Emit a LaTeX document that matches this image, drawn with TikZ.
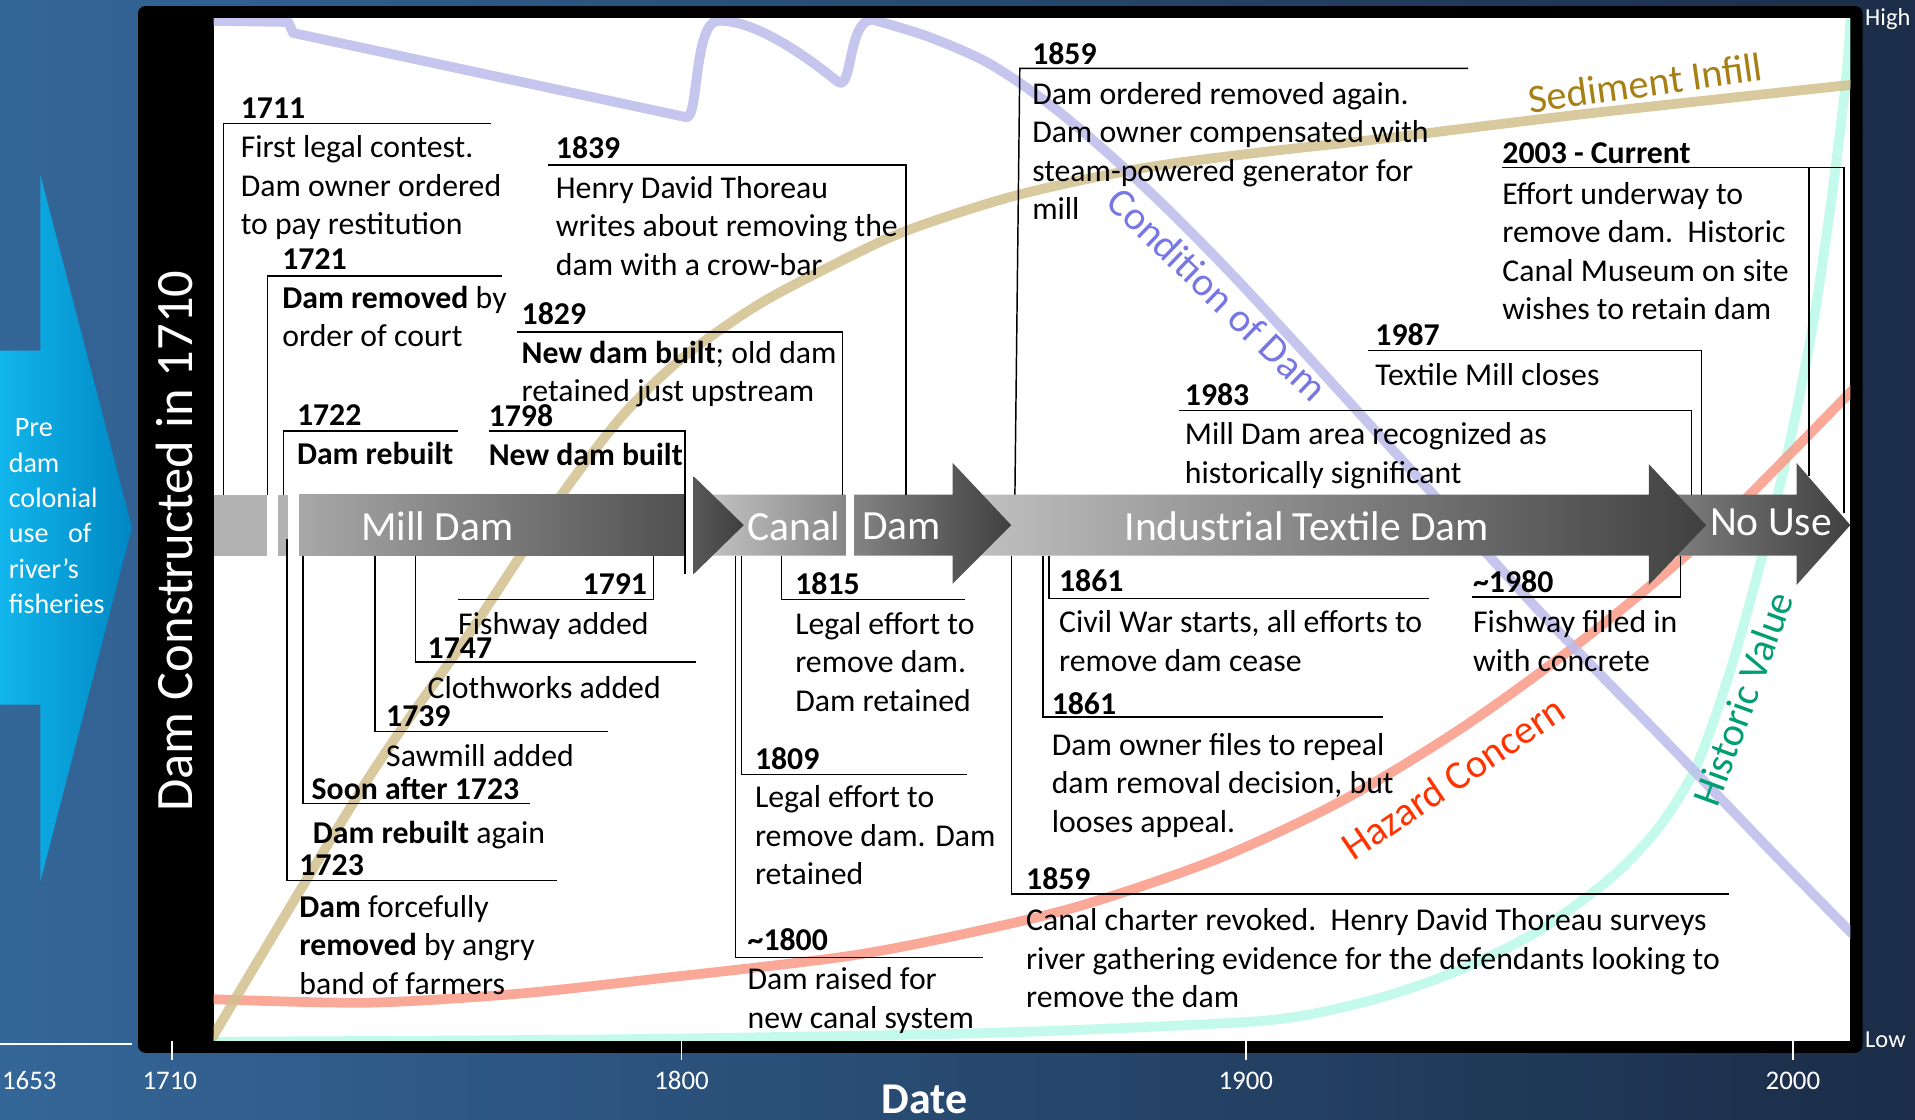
\documentclass[tikz,border=0pt]{standalone}
\usepackage{fontspec}
\setmainfont{Carlito}
\definecolor{bgL}{RGB}{52,102,152}
\definecolor{bgR}{RGB}{27,45,72}
\definecolor{arrL}{RGB}{18,182,236}
\definecolor{arrR}{RGB}{0,135,195}
\definecolor{condC}{RGB}{188,188,236}
\definecolor{condT}{RGB}{118,118,228}
\definecolor{sedC}{RGB}{210,192,142}
\definecolor{sedT}{RGB}{166,128,20}
\definecolor{hazC}{RGB}{250,155,135}
\definecolor{hazT}{RGB}{255,51,0}
\definecolor{hisC}{RGB}{185,250,232}
\definecolor{hisT}{RGB}{0,158,115}
\definecolor{preG}{RGB}{178,178,178}
\definecolor{miL}{RGB}{168,168,168}
\definecolor{miR}{RGB}{80,80,80}
\definecolor{mhL}{RGB}{88,88,88}
\definecolor{mhR}{RGB}{62,62,62}
\definecolor{caL}{RGB}{192,192,192}
\definecolor{caR}{RGB}{64,64,64}
\definecolor{inL}{RGB}{192,192,192}
\definecolor{inR}{RGB}{64,64,64}
\definecolor{nuL}{RGB}{125,125,125}
\definecolor{nuR}{RGB}{64,64,64}
\begin{document}
\begin{tikzpicture}[x=1pt,y=-1pt,
  conn/.style={black,line width=1.2pt},
  yr/.style={anchor=base west,inner sep=0pt,font=\fontsize{26}{31.5}\selectfont\bfseries},
  ev/.style={anchor=north west,inner sep=0pt,align=left,font=\fontsize{26}{31.5}\selectfont},
  crv/.style={line width=8pt,line cap=round,line join=round,opacity=0.85},
  barlbl/.style={text=white,inner sep=0pt,font=\fontsize{34}{40}\selectfont},
  crvlbl/.style={inner sep=0pt,font=\fontsize{33}{40}\selectfont},
  axlbl/.style={text=white,inner sep=0pt,anchor=base,font=\fontsize{22}{26}\selectfont},
]
\useasboundingbox (0,0) rectangle (1568,917);
% background
\shade[left color=bgL,right color=bgR] (0,0) rectangle (1568,917);
% left arrow
\shade[left color=arrL,right color=arrR] (0,287) -- (33,287) -- (33,143) -- (108,432) -- (33,722) -- (33,577) -- (0,577) -- cycle;
\node[anchor=north west,inner sep=0pt,align=left,text=white,font=\fontsize{23}{29}\selectfont] (pre) at (7,337)
  {\strut\hspace{5pt}Pre\\dam\\colonial\\use\hspace{16pt}of\\river’s\\fisheries};
\draw[white,line width=1.5pt] (0,855) -- (108,855);
% frame
\fill[black,rounded corners=6pt] (113,5) rectangle (1525,862);
\fill[white] (175,15) rectangle (1515,852);
\node[text=white,rotate=90,inner sep=0pt,font=\fontsize{43}{50}\selectfont] (built) at (143,443) {Dam Constructed in 1710};
% curves
\begin{scope}
\clip (175,15) rectangle (1515,852);
\draw[crv,hisC] plot[smooth] coordinates {(170,853) (500,851) (800,846) (1000,838) (1064,832) (1130,817) (1193,795) (1260,762) (1321,717) (1360,675) (1390,625) (1418,545) (1443,455) (1466,360) (1485,262) (1500,160) (1512,60) (1516,0)};
\draw[crv,hazC] plot[smooth] coordinates {(170,818) (300,821) (420,814) (532,802) (700,782) (824,757) (900,737) (1000,702) (1100,655) (1200,594) (1300,521) (1400,437) (1520,316)};
\draw[crv,sedC] plot[smooth] coordinates {(170,856) (300,640) (380,525) (455,412) (510,340) (560,292) (620,250) (680,218) (742,189) (832,160) (934,138) (1030,125) (1128,114) (1300,93) (1520,69)};
\draw[crv,condC] (170,17) -- (236,18) -- (240,27) -- (562,96)
  .. controls (572,98) and (568,18) .. (588,17)
  .. controls (620,16) and (665,50) .. (686,67)
  .. controls (698,76) and (694,17) .. (714,16)
  -- plot[smooth] coordinates {(714,16) (760,30) (810,52) (860,86) (910,128) (960,175) (1010,226) (1060,280) (1110,335) (1160,390) (1210,445) (1260,500) (1310,552) (1360,603) (1410,655) (1460,707) (1520,768)};
\end{scope}
\node[crvlbl,text=condT,rotate=-44] (lcond) at (997,241) {Condition of Dam};
\node[crvlbl,text=sedT,rotate=8] (lsed) at (1347,68) {Sediment Infill};
\node[crvlbl,text=hazT,rotate=34] (lhaz) at (1190,637) {Hazard Concern};
\node[crvlbl,text=hisT,rotate=70] (lhis) at (1427,572) {Historic Value};
% timeline bar
\shade[left color=nuL,right color=nuR] (1372,405) -- (1471,405) -- (1471,379) -- (1515,430) -- (1471,479) -- (1471,455) -- (1372,455) -- cycle;
\shade[left color=inL,right color=inR] (800,405) -- (1350,405) -- (1350,380) -- (1397,430) -- (1350,479) -- (1350,455) -- (800,455) -- cycle;
\shade[left color=caL,right color=caR] (583,405) -- (780,405) -- (780,379) -- (828,430) -- (780,478) -- (780,455) -- (583,455) -- cycle;
\fill[white] (693,404) rectangle (699,455);
\fill[preG] (175,405) rectangle (219,455);
\fill[preG] (228,405) rectangle (236,455);
\shade[left color=miL,right color=miR] (245,405) rectangle (560,455);
\shade[left color=mhL,right color=mhR] (568,390) -- (609,430) -- (568,470) -- cycle;
\node[barlbl] (lMill) at (358,431) {Mill Dam};
\node[barlbl] (lCanal) at (650,431) {Canal};
\node[barlbl] (lDamC) at (738,431) {Dam};
\node[barlbl] (lInd) at (1070,431) {Industrial Textile Dam};
\node[barlbl] (lNo) at (1450,428) {No Use};
% ---- upper events
\draw[conn] (183,405) -- (183,101) -- (402,101);
\node[yr] (y1711) at (197,97) {1711};
\node[ev] (t1711) at (197,107) {\strut First legal contest.\\Dam owner ordered\\to pay restitution};
\draw[conn] (219,405) -- (219,226) -- (411,226);
\node[yr] (y1721) at (231,221) {1721};
\node[ev] (t1721) at (231,230) {\strut\textbf{Dam removed} by\\order of court};
\draw[conn] (232,405) -- (232,353) -- (375,353);
\node[yr] (y1722) at (243,348) {1722};
\node[ev] (t1722) at (243,358) {\strut\textbf{Dam rebuilt}};
\draw[conn] (400,353) -- (561,353) -- (561,470);
\node[yr] (y1798) at (400,349) {1798};
\node[ev] (t1798) at (400,359) {\strut\textbf{New dam built}};
\draw[conn] (423,272) -- (690,272) -- (690,405);
\node[yr] (y1829) at (427,266) {1829};
\node[ev] (t1829) at (427,275) {\strut\textbf{New dam built}; old dam\\retained just upstream};
\draw[conn] (449,135) -- (742,135) -- (742,405);
\node[yr] (y1839) at (455,130) {1839};
\node[ev] (t1839) at (455,140) {\strut Henry David Thoreau\\writes about removing the\\dam with a crow-bar};
\draw[conn] (831,405) -- (835,56) -- (1202,56);
\node[yr] (y1859a) at (845,53) {1859};
\node[ev] (t1859a) at (845,63) {\strut Dam ordered removed again.\\Dam owner compensated with\\steam-powered generator for\\mill};
\draw[conn] (965,336) -- (1385,336) -- (1385,405);
\node[yr] (y1983) at (970,332) {1983};
\node[ev] (t1983) at (970,342) {\strut Mill Dam area recognized as\\historically significant};
\draw[conn] (1120,287) -- (1393,287) -- (1393,405);
\node[yr] (y1987) at (1126,283) {1987};
\node[ev] (t1987) at (1126,293) {\strut Textile Mill closes};
\draw[conn] (1230,137) -- (1510,137) -- (1510,420);
\draw[conn] (1481,137) -- (1481,390);
\node[yr] (y2003) at (1230,134) {2003 - Current};
\node[ev] (t2003) at (1230,145) {\strut Effort underway to\\remove dam.\ \ Historic\\Canal Museum on site\\wishes to retain dam};
% ---- lower events
\draw[conn] (375,491) -- (535,491) -- (535,455);
\node[yr,anchor=base east] (y1791) at (530,487) {1791};
\node[ev] (t1791) at (375,497) {\strut Fishway added};
\draw[conn] (340,455) -- (340,542) -- (570,542);
\node[yr] (y1747) at (350,539) {1747};
\node[ev] (t1747) at (350,550) {\strut Clothworks added};
\draw[conn] (307,455) -- (307,599) -- (498,599);
\node[yr] (y1739) at (316,595) {1739};
\node[ev] (t1739) at (316,605) {\strut Sawmill added};
\draw[conn] (248,455) -- (248,658) -- (434,658);
\node[yr] (ysoon) at (255,655) {Soon after 1723};
\node[ev] (tsoon) at (256,668) {\strut\textbf{Dam rebuilt} again};
\draw[conn] (235,441) -- (235,721) -- (456,721);
\node[yr] (y1723) at (245,717) {1723};
\node[ev] (t1723) at (245,729) {\strut\textbf{Dam} forcefully\\\textbf{removed} by angry\\band of farmers};
\draw[conn] (640,455) -- (640,491) -- (790,491);
\node[yr] (y1815) at (651,487) {1815};
\node[ev] (t1815) at (651,497) {\strut Legal effort to\\remove dam.\\Dam retained};
\draw[conn] (607,455) -- (607,634) -- (792,634);
\node[yr] (y1809) at (618,630) {1809};
\node[ev] (t1809) at (618,639) {\strut Legal effort to\\remove dam. Dam\\retained};
\draw[conn] (602,455) -- (602,784) -- (805,784);
\node[yr] (y1800) at (612,778) {\textasciitilde1800};
\node[ev] (t1800) at (612,788) {\strut Dam raised for\\new canal system};
\draw[conn] (859,455) -- (859,490) -- (1170,490);
\node[yr] (y1861a) at (867,484) {1861};
\node[ev] (t1861a) at (867,496) {\strut Civil War starts, all efforts to\\remove dam cease};
\draw[conn] (854,455) -- (854,587) -- (1132,587);
\node[yr] (y1861b) at (861,585) {1861};
\node[ev] (t1861b) at (861,596) {\strut Dam owner files to repeal\\dam removal decision, but\\looses appeal.};
\draw[conn] (828,455) -- (828,732) -- (1416,732);
\node[yr] (y1859b) at (840,728) {1859};
\node[ev] (t1859b) at (840,740) {\strut Canal charter revoked.\ \ Henry David Thoreau surveys\\river gathering evidence for the defendants looking to\\remove the dam};
\draw[conn] (1205,489) -- (1376,489) -- (1376,455);
\node[yr] (y1980) at (1206,485) {\textasciitilde1980};
\node[ev] (t1980) at (1206,496) {\strut Fishway filled in\\with concrete};
% axis
\foreach \tx in {141,558,1020,1468} \draw[white,line width=1.3pt] (\tx,852) -- (\tx,868);
\node[axlbl] (a1653) at (24,892) {1653};
\node[axlbl] (a1710) at (139,892) {1710};
\node[axlbl] (a1800) at (558,892) {1800};
\node[axlbl] (a1900) at (1020,892) {1900};
\node[axlbl] (a2000) at (1468,892) {2000};
\node[text=white,anchor=base,inner sep=0pt,font=\fontsize{36}{40}\selectfont\bfseries] (date) at (757,912) {Date};
\node[text=white,anchor=base west,inner sep=0pt,font=\fontsize{20}{24}\selectfont] (high) at (1527,21) {High};
\node[text=white,anchor=base west,inner sep=0pt,font=\fontsize{20}{24}\selectfont] (low) at (1527,858) {Low};
\end{tikzpicture}
\end{document}
